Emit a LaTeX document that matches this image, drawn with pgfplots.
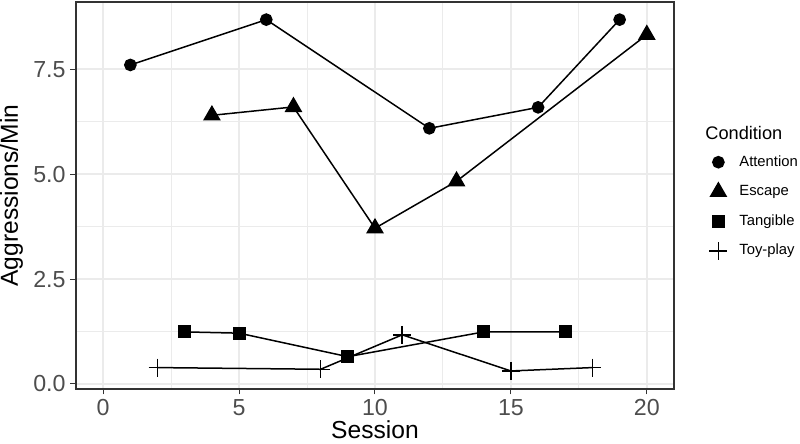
\documentclass[border=0pt]{standalone}
\usepackage{fontspec}
\setmainfont{Liberation Sans}
\usepackage{pgfplots}
\pgfplotsset{compat=1.18}
\definecolor{gridgray}{HTML}{EBEBEB}
\definecolor{framegray}{HTML}{333333}
\definecolor{ticktext}{HTML}{4D4D4D}

\begin{document}
\begin{tikzpicture}
\begin{axis}[
    scale only axis,
    width=299pt, height=193.5pt,
    xmin=-1, xmax=21,
    ymin=-0.12, ymax=9.1,
    clip mode=individual,
    xtick={0,5,10,15,20},
    ytick={0,2.5,5,7.5},
    yticklabel style={inner xsep=2.25pt, /pgf/number format/.cd, fixed, fixed zerofill, precision=1},
    /pgf/number format/assume math mode=true,
    minor x tick num=1, minor y tick num=1,
    grid=both,
    major grid style={gridgray, line width=1pt},
    minor grid style={gridgray, line width=0.5pt},
    minor tick length=0pt,
    major tick length=2.75pt,
    tick align=outside,
    tick style={framegray, line width=0.5pt},
    axis line style={framegray, line width=0.8pt},
    ticklabel style={font=\fontsize{11.6}{13}\selectfont, text=ticktext},
    xticklabel style={inner ysep=2.25pt},
    xtick pos=bottom, ytick pos=left,
    xlabel={Session}, ylabel={Aggressions/Min},
    label style={font=\fontsize{12.3}{14}\selectfont},
    xlabel style={at={(axis description cs:0.5,-0.106)}, anchor=center},
    ylabel style={at={(axis description cs:-0.1079,0.5)}, anchor=center},
    every axis plot/.append style={black, line width=0.75pt},
    legend image code/.code={\draw[#1, only marks] plot coordinates {(0pt,0pt)};},
    legend cell align=left,
    legend style={at={(rel axis cs:1.0585,0.6253)}, anchor=north west,
        draw=none, fill=none, inner sep=0pt, row sep=0pt,
        font=\fontsize{7.4}{9}\selectfont,
        nodes={minimum height=14.8pt},
        /tikz/every odd column/.append style={column sep=4pt}},
]
\addplot[mark=*, mark size=2.8pt, mark options={fill=black}]
    coordinates {(1,7.6) (6,8.68) (12,6.09) (16,6.59) (19,8.68)};
\addlegendentry{Attention}
\addplot[mark=triangle*, mark size=4.4pt, mark options={fill=black}]
    coordinates {(4,6.4) (7,6.6) (10,3.71) (13,4.83) (20,8.32)};
\addlegendentry{Escape}
\addplot[mark=square*, mark size=2.9pt, mark options={fill=black}]
    coordinates {(3,1.24) (5,1.21) (9,0.65) (14,1.24) (17,1.24)};
\addlegendentry{Tangible}
\addplot[mark=+, mark size=4.5pt]
    coordinates {(2,0.39) (8,0.35) (11,1.17) (15,0.31) (18,0.39)};
\addlegendentry{Toy-play}
\node[anchor=west, inner sep=0pt, font=\fontsize{9.1}{11}\selectfont]
    at (rel axis cs:1.0518,0.6623) {Condition};
\end{axis}
\pgfresetboundingbox
\path (-38pt,-27.5pt) rectangle (362pt,194.5pt);
\end{tikzpicture}
\end{document}
